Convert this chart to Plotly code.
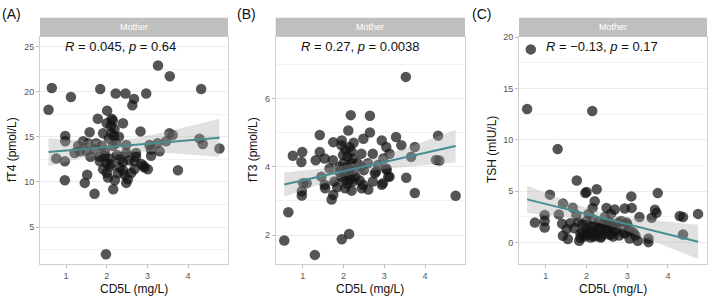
import numpy as np
import plotly.graph_objects as go

# ---------------- data ----------------
A_x = [0.57,0.65,1.12,1.84,2.22,2.46,2.67,2.63,2.97,3.26,3.55,4.32,2.01,1.78,2.15,2.40,2.19,2.12,2.18,2.10,
       1.58,2.83,1.91,0.98,0.98,3.54,3.62,1.42,1.54,1.74,2.23,2.48,3.05,3.25,3.46,4.28,4.36,4.77,1.34,1.50,
       1.21,1.70,1.95,2.48,2.72,3.09,3.30,0.76,0.97,1.83,2.07,2.32,2.72,2.68,3.09,1.91,2.07,2.32,1.83,1.99,
       2.68,2.93,3.01,3.75,0.97,1.52,1.46,2.03,2.27,2.44,2.52,1.70,2.16,2.48,1.98,2.05,2.15,2.25,1.95,2.10,
       2.40,2.00,2.20,1.60,2.55,2.85,2.00,2.12,2.30,1.88,2.60,2.40,1.30,2.90]
A_y = [18.0,20.4,19.4,20.3,19.8,19.8,19.2,18.5,19.8,22.9,21.7,20.3,17.9,17.0,16.8,16.5,15.9,15.4,15.1,16.2,
       15.5,15.6,15.4,15.1,14.5,15.4,15.2,14.5,14.3,14.3,14.3,14.1,14.1,14.3,14.5,14.8,14.2,13.7,13.4,13.4,
       13.2,13.6,13.4,13.2,13.2,13.6,13.4,12.6,12.3,12.8,12.6,12.5,12.8,12.3,12.9,11.4,11.7,11.6,12.3,12.1,
       11.4,11.6,11.4,11.3,10.2,10.8,9.9,10.5,11.0,10.8,10.3,8.7,9.2,9.9,2.0,14.8,14.0,13.0,12.9,12.0,
       12.2,11.0,10.2,12.8,12.4,12.0,16.5,17.0,15.0,14.0,11.0,11.3,14.0,11.8]

B_x = [3.53,2.18,2.65,1.42,2.12,2.65,2.49,2.94,3.29,4.32,1.75,1.96,3.75,1.95,2.15,3.05,3.42,0.76,0.99,0.97,
       1.42,1.32,1.54,1.74,1.99,2.23,2.44,2.72,3.13,3.66,4.27,4.35,1.66,1.91,2.15,2.44,2.80,3.05,3.13,3.54,
       1.46,1.01,1.54,1.78,2.03,2.23,2.48,2.72,2.97,0.55,0.65,1.30,1.96,2.14,3.75,4.75,0.98,0.98,1.10,1.55,
       1.75,1.71,2.04,2.16,2.45,2.61,2.94,3.10,2.77,3.06,2.85,2.98,2.00,2.10,2.20,2.05,2.15,2.25,1.95,2.30,
       2.10,2.20,1.90,2.35,2.05,2.25,2.10,1.85,2.20,2.40,2.50,2.60]
B_y = [6.63,5.51,5.49,4.93,5.06,5.00,4.82,4.77,4.87,4.91,4.72,4.77,4.58,4.63,4.58,4.58,4.63,4.32,4.43,4.14,
       4.43,4.19,4.24,4.19,4.34,4.24,4.38,4.38,4.38,4.29,4.20,4.18,3.95,4.00,3.90,4.00,3.86,3.95,3.71,3.68,
       3.71,3.52,3.47,3.57,3.62,3.57,3.47,3.57,3.52,1.84,2.67,1.42,1.88,2.03,3.23,3.15,3.28,3.16,3.52,3.37,
       3.18,3.04,3.37,3.62,3.37,3.33,3.47,3.71,3.81,3.91,4.05,4.24,4.10,4.00,4.10,3.80,3.75,3.85,3.70,3.70,
       4.30,4.45,3.85,4.10,4.50,4.70,3.50,3.40,3.30,3.60,3.90,4.10]

C_x = [0.63,0.54,2.14,1.29,1.76,1.10,1.97,2.00,2.25,3.10,3.75,1.42,1.66,2.20,2.15,2.49,2.69,2.94,3.11,3.30,
       3.68,3.72,3.60,4.29,4.37,4.74,4.37,0.73,0.97,0.97,0.97,1.32,1.40,1.42,1.54,1.51,1.82,1.85,2.57,2.78,
       2.98,3.15,3.06,3.26,3.52,3.52,1.80,1.90,2.00,2.10,2.20,2.30,2.40,2.50,2.60,2.70,2.80,2.90,2.00,2.10,
       2.20,2.30,2.40,1.90,2.00,2.15,2.35,2.55,2.65,2.85,3.00,1.70,1.60,2.45,2.60,1.75,2.05,
       1.85,1.95,2.05,2.15,2.25,2.35,2.45,2.55,2.65,2.75,2.95,3.05,3.20,2.10,2.30,2.50]
C_y = [18.8,13.0,12.8,9.1,6.05,4.67,4.82,4.92,5.20,4.50,4.82,3.80,3.40,4.03,3.38,3.38,3.23,3.33,3.38,2.50,
       3.20,2.90,2.43,2.59,2.50,2.80,0.80,1.95,2.70,2.10,1.47,2.75,1.85,0.67,0.35,1.31,0.19,0.48,1.95,1.95,
       1.95,1.00,0.40,0.19,0.05,0.40,2.00,1.80,1.40,1.10,1.60,1.30,0.90,1.20,0.80,1.10,0.70,1.00,0.80,0.50,
       0.60,2.00,1.80,1.00,2.10,2.30,0.60,1.90,1.70,2.10,1.80,1.40,1.90,2.50,2.80,2.70,2.80,
       0.90,0.60,1.00,0.70,0.90,0.50,1.20,0.80,0.60,1.30,0.90,1.20,0.70,1.50,1.40,1.60]

panel_letters = ["(A)", "(B)", "(C)"]
y_titles = ["fT4 (pmol/L)", "fT3 (pmol/L)", "TSH (mIU/L)"]
x_title = "CD5L (mg/L)"
strip_label = "Mother"
stat_labels = ["<i>R</i> = 0.045, <i>p</i> = 0.64",
               "<i>R</i> = 0.27, <i>p</i> = 0.0038",
               "<i>R</i> = \u22120.13, <i>p</i> = 0.17"]
y_ticks = [[5, 10, 15, 20, 25], [2, 4, 6], [0, 5, 10, 15, 20]]
x_ticks = [1, 2, 3, 4]

# ---------------- layout geometry ----------------
W, H = 709, 297
FONT = "Liberation Sans, Arial, Helvetica, sans-serif"
x_dom = [(40, 228), (275.7, 465), (519, 707)]
y_top, y_bot = 33, 264
x_ranges = [[0.36, 4.98], [0.34, 4.98], [0.34, 4.96]]
y_ranges = [[0.87, 26.1], [1.14, 7.81], [-2.12, 20.05]]
minor_dt = [2.5, 1, 2.5]
stat_pos = [(63, 43), (299, 43), (544, 43)]

def px(x):
    return x / W

def py(y):
    return 1 - y / H

fig = go.Figure()
data = [(A_x, A_y), (B_x, B_y), (C_x, C_y)]

for i, (xs, ys) in enumerate(data):
    xs = np.asarray(xs, float)
    ys = np.asarray(ys, float)
    sfx = "" if i == 0 else str(i + 1)
    xa, ya = "x" + sfx, "y" + sfx
    fig.add_trace(go.Scatter(x=xs, y=ys, mode="markers", xaxis=xa, yaxis=ya,
                             marker=dict(size=10.5, color="rgba(20,20,20,0.72)", line=dict(width=0)),
                             showlegend=False, hoverinfo="skip"))
    # linear fit + 95% CI
    n = len(xs)
    b1, b0 = np.polyfit(xs, ys, 1)
    resid = ys - (b0 + b1 * xs)
    s = np.sqrt(np.sum(resid ** 2) / (n - 2))
    g = np.linspace(xs.min(), xs.max(), 80)
    fitv = b0 + b1 * g
    sxx = np.sum((xs - xs.mean()) ** 2)
    se = s * np.sqrt(1 / n + (g - xs.mean()) ** 2 / sxx)
    t = 1.98
    up, lo = fitv + t * se, fitv - t * se
    fig.add_trace(go.Scatter(x=np.concatenate([g, g[::-1]]), y=np.concatenate([up, lo[::-1]]),
                             xaxis=xa, yaxis=ya, fill="toself", fillcolor="rgba(170,170,170,0.35)",
                             line=dict(width=0), mode="lines", showlegend=False, hoverinfo="skip"))
    fig.add_trace(go.Scatter(x=g, y=fitv, xaxis=xa, yaxis=ya, mode="lines",
                             line=dict(color="#4a8c93", width=2), showlegend=False, hoverinfo="skip"))

    common_axis = dict(showline=True, linecolor="#cfcfcf", linewidth=1, mirror=True,
                       ticks="outside", ticklen=3, tickcolor="#bdbdbd", tickwidth=1,
                       tickfont=dict(size=9, color="#555555", family=FONT), zeroline=False)
    fig.layout["xaxis" + sfx] = dict(domain=[px(x_dom[i][0]), px(x_dom[i][1])], anchor=ya,
                                     range=x_ranges[i], tickvals=x_ticks, showgrid=False,
                                     **common_axis)
    fig.layout["yaxis" + sfx] = dict(domain=[py(y_bot), py(y_top)], anchor=xa,
                                     range=y_ranges[i], tickvals=y_ticks[i], showgrid=True,
                                     gridcolor="#ebebeb", gridwidth=1,
                                     minor=dict(dtick=minor_dt[i], tick0=0, showgrid=True,
                                                gridcolor="#f2f2f2", gridwidth=0.7, ticks=""),
                                     **common_axis)
    # strip
    fig.add_shape(type="rect", xref="paper", yref="paper",
                  x0=px(x_dom[i][0]), x1=px(x_dom[i][1]), y0=py(y_top), y1=py(14),
                  fillcolor="#bfbfbf", line=dict(width=0))
    fig.add_annotation(xref="paper", yref="paper", x=px((x_dom[i][0] + x_dom[i][1]) / 2),
                       y=py(23.5), text=strip_label, showarrow=False,
                       font=dict(size=9, color="white", family=FONT), xanchor="center", yanchor="middle")
    # stat label
    fig.add_annotation(xref="paper", yref="paper", x=px(stat_pos[i][0]), y=py(stat_pos[i][1]),
                       text=stat_labels[i], showarrow=False, xanchor="left", yanchor="middle",
                       font=dict(size=13, color="#111111", family=FONT))
    # panel letter
    fig.add_annotation(xref="paper", yref="paper", x=px([0, 235, 470][i]), y=py(10),
                       text=panel_letters[i], showarrow=False, xanchor="left", yanchor="middle",
                       font=dict(size=14, color="#111111", family=FONT))
    # axis titles
    fig.add_annotation(xref="paper", yref="paper", x=px((x_dom[i][0] + x_dom[i][1]) / 2), y=py(288.5),
                       text=x_title, showarrow=False, xanchor="center", yanchor="middle",
                       font=dict(size=12, color="#111111", family=FONT))
    fig.add_annotation(xref="paper", yref="paper", x=px([12, 253, 492][i]), y=py(148),
                       text=y_titles[i], showarrow=False, textangle=-90, xanchor="center",
                       yanchor="middle", font=dict(size=12, color="#111111", family=FONT))

fig.update_layout(width=W, height=H, margin=dict(l=0, r=0, t=0, b=0),
                  plot_bgcolor="white", paper_bgcolor="white", font=dict(family=FONT))
fig.write_html("out.html", config={"displayModeBar": False},
               post_script="document.body.style.margin='0';document.body.style.overflow='hidden';")
